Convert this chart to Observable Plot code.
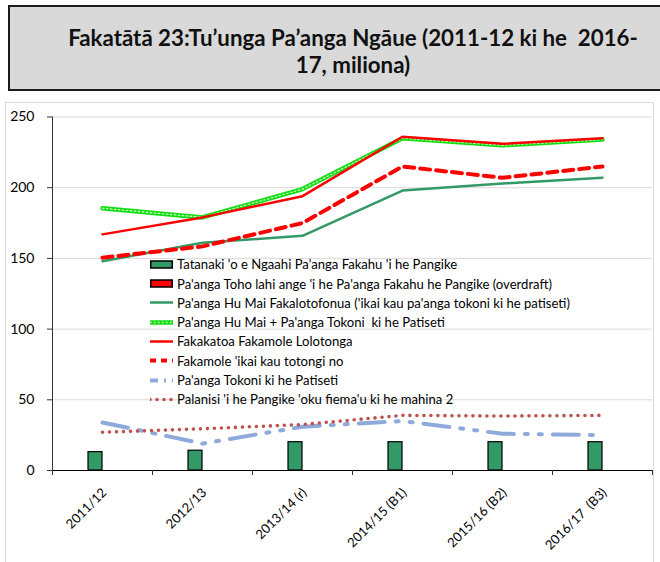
<!DOCTYPE html>
<html><head><meta charset="utf-8">
<script src="https://cdn.jsdelivr.net/npm/d3@7"></script>
<script src="https://cdn.jsdelivr.net/npm/@observablehq/plot@0.6"></script>
<style>
body{margin:0;width:660px;height:562px;position:relative;overflow:hidden;background:#fff;font-family:Lato,sans-serif;color:#000}
#title{position:absolute;left:8px;top:5px;width:690px;height:86px;box-sizing:border-box;background:#d9d9d9;border:2px solid #1a1a1a;font-weight:bold;font-size:22.3px;text-align:center;white-space:pre;line-height:27px;padding-top:17px;color:#111}
#frame{position:absolute;left:5px;top:102px;width:649px;height:470px;border:1px solid #d9d9d9;box-sizing:border-box}
#chart{position:absolute;left:0;top:102px}
#legend{position:absolute;left:150px;top:254.6px;font-size:13.1px;white-space:pre}
.row{height:19.3px;display:flex;align-items:center}
.row svg{flex:none;margin-right:4px}
</style>
</head><body>
<div id="title">Fakatātā 23:Tu’unga Pa’anga Ngāue (2011-12 ki he  2016-
17, miliona)</div>
<div id="frame"></div>
<div id="chart"></div>
<div id="legend"></div>
<script>
const categories = ["2011/12","2012/13","2013/14 (r)","2014/15 (B1)","2015/16 (B2)","2016/17  (B3)"];
const yTicks = [0,50,100,150,200,250];
const deposits = [13,14,20,20,20,20];
const overdraft = [0,0,0,0,0,0];
const domesticRevenue = [148,161,166,198,203,207];
const revenuePlusBudgetSupport = [185.5,179,199,235,230,234];
const totalRecurrentExpenditure = [167,179,194,236,231,235];
const expenditureExclLoanRepay = [150.5,158.5,175,215,207,215];
const budgetSupport = [34,19,31,35,26,25];
const requiredBankBalance = [27,29.5,32.5,39,38.5,39];

const names = {
  deposits:"Tatanaki 'o e Ngaahi Pa'anga Fakahu 'i he Pangike",
  overdraft:"Pa'anga Toho lahi ange 'i he Pa'anga Fakahu he Pangike (overdraft)",
  domesticRevenue:"Pa'anga Hu Mai Fakalotofonua ('ikai kau pa'anga tokoni ki he patiseti)",
  revenuePlusBudgetSupport:"Pa'anga Hu Mai + Pa'anga Tokoni  ki he Patiseti",
  totalRecurrentExpenditure:"Fakakatoa Fakamole Lolotonga",
  expenditureExclLoanRepay:"Fakamole 'ikai kau totongi no",
  budgetSupport:"Pa'anga Tokoni ki he Patiseti",
  requiredBankBalance:"Palanisi 'i he Pangike 'oku fiema'u ki he mahina 2"
};

const rows = vals => categories.map((c,i)=>({c, v: vals[i]}));
const bw = 100;

const styles = {
  domesticRevenue:{stroke:"#339966", strokeWidth:2.5},
  revenuePlusBudgetSupport:{stroke:"#11dd11", strokeWidth:4.5},
  revenueTop:{stroke:"#c8ffc8", strokeWidth:1.3, strokeDasharray:"1.5 2.5"},
  totalRecurrentExpenditure:{stroke:"#ff0000", strokeWidth:2.5},
  expenditureExclLoanRepay:{stroke:"#ff0000", strokeWidth:4, strokeDasharray:"10 6"},
  budgetSupport:{stroke:"#8eaadb", strokeWidth:4, strokeDasharray:"26 11 3 11 3 11"},
  requiredBankBalance:{stroke:"#c0504d", strokeWidth:3.6, strokeDasharray:"0 7", strokeLinecap:"round"}
};

const line = (arr, st) => Plot.line(rows(arr), {x:"c", y:"v", ...st});

const chart = Plot.plot({
  width:660, height:460,
  marginLeft:52, marginRight:8, marginTop:14.5, marginBottom:92,
  style:{background:"transparent", fontFamily:"Lato, sans-serif", color:"#000"},
  x:{type:"band", domain:categories, padding:0, axis:null},
  y:{domain:[0,250], axis:null},
  marks:[
    Plot.gridY(yTicks.filter(d=>d>0), {stroke:"#d9d9d9", strokeOpacity:1}),
    Plot.axisY(yTicks, {tickSize:5, tickPadding:13, fontSize:14, stroke:"#333", label:null}),
    Plot.axisX({tickSize:0, tickRotate:-45, tickPadding:20, fontSize:13, dx:2, label:null}),
    Plot.barY(rows(deposits), {x:"c", y:"v", fill:"#339966", stroke:"#000", strokeWidth:1.2, insetLeft:36, insetRight:50}),
    Plot.barY(rows(overdraft), {x:"c", y:"v", fill:"#ff0000", stroke:"#000", strokeWidth:1.2, insetLeft:50, insetRight:36}),
    Plot.ruleY([0], {stroke:"#000", strokeWidth:1.2}),
    Plot.frame({anchor:"left", stroke:"#333"}),
    Plot.ruleX(categories, {x:d=>d, y1:0, y2:0, insetBottom:-5, dx:-bw/2, stroke:"#333"}),
    Plot.ruleX(categories.slice(-1), {x:d=>d, y1:0, y2:0, insetBottom:-5, dx:bw/2, stroke:"#333"}),
    line(budgetSupport, styles.budgetSupport),
    line(requiredBankBalance, styles.requiredBankBalance),
    line(domesticRevenue, styles.domesticRevenue),
    line(revenuePlusBudgetSupport, styles.revenuePlusBudgetSupport),
    line(revenuePlusBudgetSupport, styles.revenueTop),
    line(totalRecurrentExpenditure, styles.totalRecurrentExpenditure),
    line(expenditureExclLoanRepay, styles.expenditureExclLoanRepay)
  ]
});
document.getElementById("chart").append(chart);

// legend
const ns = "http://www.w3.org/2000/svg";
const legendItems = [
  {key:"deposits", box:"#339966"},
  {key:"overdraft", box:"#ff0000"},
  {key:"domesticRevenue"},
  {key:"revenuePlusBudgetSupport", extra:"revenueTop"},
  {key:"totalRecurrentExpenditure"},
  {key:"expenditureExclLoanRepay"},
  {key:"budgetSupport"},
  {key:"requiredBankBalance"}
];
const lg = document.getElementById("legend");
for (const it of legendItems) {
  const row = document.createElement("div"); row.className = "row";
  const svg = document.createElementNS(ns, "svg");
  svg.setAttribute("width", 23); svg.setAttribute("height", 19);
  const addLine = st => {
    const l = document.createElementNS(ns, "line");
    l.setAttribute("x1", 0); l.setAttribute("x2", 23); l.setAttribute("y1", 9.5); l.setAttribute("y2", 9.5);
    l.setAttribute("stroke", st.stroke); l.setAttribute("stroke-width", st.strokeWidth);
    if (st.strokeDasharray) l.setAttribute("stroke-dasharray", st.strokeDasharray);
    if (st.strokeLinecap) l.setAttribute("stroke-linecap", st.strokeLinecap);
    svg.append(l);
  };
  if (it.box) {
    const r = document.createElementNS(ns, "rect");
    r.setAttribute("x", 0.75); r.setAttribute("y", 6); r.setAttribute("width", 21.5); r.setAttribute("height", 7);
    r.setAttribute("fill", it.box); r.setAttribute("stroke", "#000"); r.setAttribute("stroke-width", 1.5);
    svg.append(r);
  } else {
    let st = styles[it.key];
    if (it.key === "budgetSupport") st = {...st, strokeDasharray:"8 6 2 6 2 6"};
    if (it.key === "expenditureExclLoanRepay") st = {...st, strokeDasharray:"6 5"};
    addLine(st);
    if (it.extra) addLine(styles[it.extra]);
  }
  const span = document.createElement("span");
  span.textContent = names[it.key];
  row.append(svg, span);
  lg.append(row);
}
</script>
</body></html>
